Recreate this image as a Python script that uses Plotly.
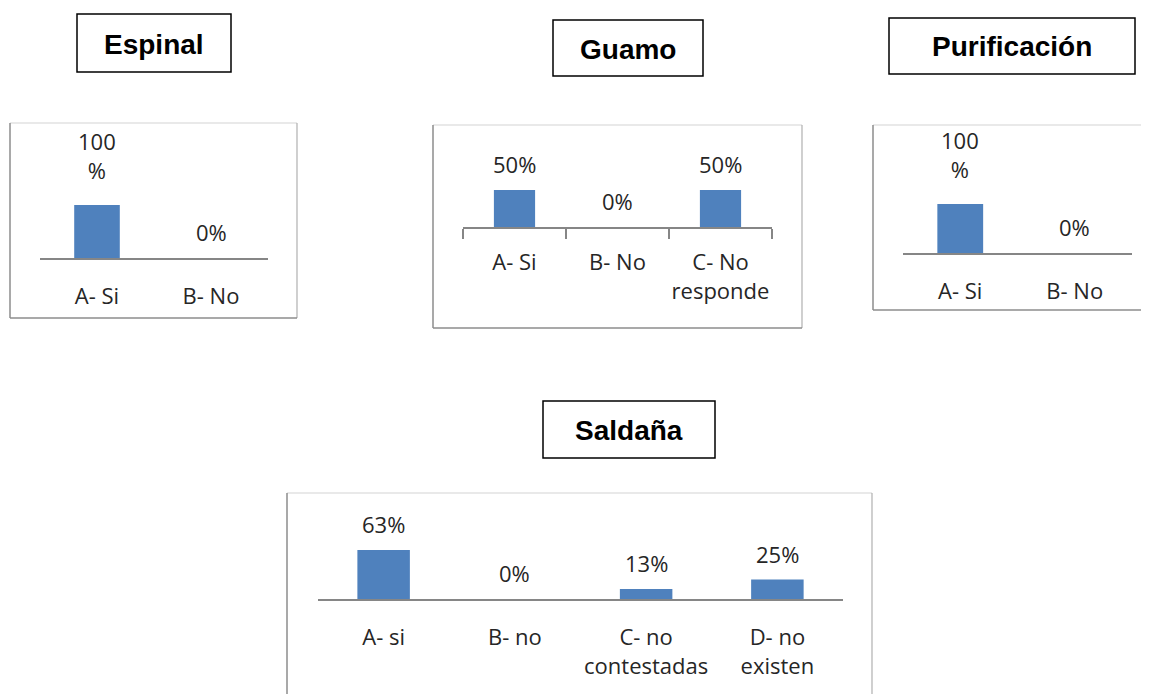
import plotly.graph_objects as go

# ---------------- data ----------------
espinal_categories = ["A- Si", "B- No"]
espinal_values = [100, 0]

guamo_categories = ["A- Si", "B- No", "C- No<br>responde"]
guamo_values = [50, 0, 50]

purificacion_categories = ["A- Si", "B- No"]
purificacion_values = [100, 0]

saldana_categories = ["A- si", "B- no", "C- no<br>contestadas", "D- no<br>existen"]
saldana_values = [63, 0, 13, 25]

titles = ["Espinal", "Guamo", "Purificación", "Saldaña"]

# ---------------- layout helpers ----------------
W, H = 1149, 694
OFF = 8  # page body margin
BAR = "#4F81BD"
AXIS = "#868686"
TXT = "#262626"
FONT = "Open Sans"
FS = 22


def px(x):
    return (x - OFF) / W


def py(y):
    return 1 - (y - OFF) / H


panels = [
    dict(cats=espinal_categories, vals=espinal_values, x0=40, x1=268, base=258, s=53, top=128,
         ticks=False, frame=(10, 123, 297, 318), title_box=(77, 14, 231, 72)),
    dict(cats=guamo_categories, vals=guamo_values, x0=463, x1=772, base=227, s=74, top=130,
         ticks=True, frame=(433, 125, 802, 328), title_box=(553, 20, 703, 76)),
    dict(cats=purificacion_categories, vals=purificacion_values, x0=903, x1=1132, base=253, s=49, top=130,
         ticks=False, frame=(873, 125, 1170, 310), title_box=(889, 18, 1135, 74)),
    dict(cats=saldana_categories, vals=saldana_values, x0=318, x1=843, base=599, s=77.8, top=498,
         ticks=False, frame=(287, 493, 872, 720), title_box=(543, 401, 715, 458)),
]

fig = go.Figure()
shapes = []
annotations = []

for i, (p, title) in enumerate(zip(panels, titles)):
    n = i + 1
    xa = "x" if n == 1 else f"x{n}"
    ya = "y" if n == 1 else f"y{n}"
    xkey = "xaxis" if n == 1 else f"xaxis{n}"
    ykey = "yaxis" if n == 1 else f"yaxis{n}"

    fig.add_trace(go.Bar(
        x=p["cats"], y=p["vals"], xaxis=xa, yaxis=ya,
        marker=dict(color=BAR, line=dict(width=0)), width=0.4,
        showlegend=False, hoverinfo="skip",
    ))

    ymax = (p["base"] - p["top"]) / p["s"] * 100
    fig.layout[xkey] = dict(
        domain=[px(p["x0"]), px(p["x1"])], anchor=ya, type="category",
        showline=True, linecolor=AXIS, linewidth=1.5, showgrid=False, zeroline=False,
        ticks="outside" if p["ticks"] else "", tickson="boundaries",
        ticklen=10, tickcolor=AXIS, tickwidth=1.5,
        tickangle=0, automargin=False,
        tickfont=dict(family=FONT, size=FS, color=TXT),
        ticklabelstandoff=15 if p["ticks"] else 18,
        fixedrange=True,
    )
    fig.layout[ykey] = dict(
        domain=[py(p["base"]), py(p["top"])], anchor=xa, range=[0, ymax],
        visible=False, fixedrange=True, automargin=False,
    )

    # value labels (Excel wrapped the wide "100%" label onto two lines)
    for c, v in zip(p["cats"], p["vals"]):
        txt = f"{v}%"
        wrapped = len(txt) > 3
        if wrapped:
            txt = txt[:-1] + "<br>%"
        annotations.append(dict(
            x=c, y=v, xref=xa, yref=ya, text=txt, showarrow=False,
            yanchor="middle", yshift=50 if wrapped else 26,
            font=dict(family=FONT, size=FS, color=TXT),
        ))

    # panel frame
    fx0, fy0, fx1, fy1 = p["frame"]
    light, dark = "#d4d4d4", "#8c8c8c"
    shapes += [
        dict(type="line", xref="paper", yref="paper", x0=px(fx0), x1=px(fx1), y0=py(fy0), y1=py(fy0),
             line=dict(color=light, width=1.2)),
        dict(type="line", xref="paper", yref="paper", x0=px(fx1), x1=px(fx1), y0=py(fy0), y1=py(fy1),
             line=dict(color="#b0b0b0", width=1.2)),
        dict(type="line", xref="paper", yref="paper", x0=px(fx0), x1=px(fx0), y0=py(fy0), y1=py(fy1),
             line=dict(color=dark, width=1.5)),
        dict(type="line", xref="paper", yref="paper", x0=px(fx0), x1=px(fx1), y0=py(fy1), y1=py(fy1),
             line=dict(color=dark, width=1.5)),
    ]

    # title box
    bx0, by0, bx1, by1 = p["title_box"]
    shapes.append(dict(type="rect", xref="paper", yref="paper",
                       x0=px(bx0), x1=px(bx1), y0=py(by1), y1=py(by0),
                       line=dict(color="#000000", width=1.5), fillcolor="rgba(0,0,0,0)"))
    annotations.append(dict(
        x=px((bx0 + bx1) / 2), y=py((by0 + by1) / 2 + 1), xref="paper", yref="paper",
        text=f"<b>{title}</b>", showarrow=False, xanchor="center", yanchor="middle",
        font=dict(family="Liberation Sans", size=28, color="#000000"),
    ))

fig.update_layout(
    width=W, height=H, margin=dict(l=0, r=0, t=0, b=0, autoexpand=False),
    paper_bgcolor="white", plot_bgcolor="rgba(0,0,0,0)",
    shapes=shapes, annotations=annotations, bargap=0.6,
)

fig.write_html("out.html", config={"displayModeBar": False})
